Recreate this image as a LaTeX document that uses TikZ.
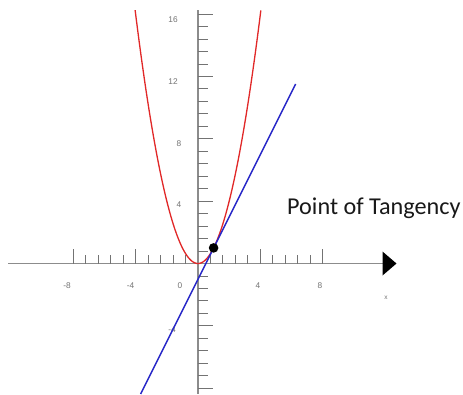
\documentclass[tikz,border=0pt]{standalone}
\usepackage{fontspec}
\setmainfont{Liberation Sans}
\newfontfamily\calib{Carlito}
\begin{document}
\begin{tikzpicture}[x=1pt,y=-1pt,
  axisline/.style={draw=black!45,line width=1.8pt},
  tickline/.style={draw=black!55,line width=0.9pt},
  ticklbl/.style={text=black!55,font=\fontsize{8.3}{9}\selectfont,inner sep=0pt},
  curveP/.style={draw={rgb,255:red,225;green,40;blue,40},line width=1.3pt},
  lineT/.style={draw={rgb,255:red,40;green,40;blue,200},line width=1.5pt},
  callout/.style={font=\calib\fontsize{24.2}{27}\selectfont,inner sep=0pt,anchor=base west,text=black!90}]
\useasboundingbox (0,0) rectangle (463,394);
\fill[white] (0,0) rectangle (463,394);
% axes
\coordinate (xs) at (8,263.5);
\coordinate (xe) at (384,263.5);
\coordinate (ys) at (197.7,10);
\coordinate (ye) at (197.7,394);
\draw[axisline] (xs) -- (xe);
\draw[axisline] (ys) -- (ye);
\fill[black] (382.5,251.5) -- (396.5,263.5) -- (382.5,275.5) -- cycle;
% x ticks
\foreach \k in {-10,...,10}{
  \ifnum\k=0\else
    \pgfmathsetmacro{\xx}{198+12.47*\k}
    \pgfmathtruncatemacro{\mk}{mod(abs(\k),5)}
    \ifnum\mk=0
      \draw[tickline] (\xx,263.5) -- (\xx,249);
    \else
      \draw[tickline] (\xx,263.5) -- (\xx,255);
    \fi
  \fi
}
% y ticks
\foreach \k in {-10,...,20}{
  \ifnum\k=0\else
    \pgfmathsetmacro{\yy}{263.5-12.47*\k}
    \pgfmathtruncatemacro{\mk}{mod(abs(\k),5)}
    \ifnum\mk=0
      \draw[tickline] (197.7,\yy) -- (213,\yy);
    \else
      \draw[tickline] (197.7,\yy) -- (207.5,\yy);
    \fi
  \fi
}
% labels
\node[ticklbl] (lxm8) at (67,286) {-8};
\node[ticklbl] (lxm4) at (130.5,286) {-4};
\node[ticklbl] (lx0) at (180,286) {0};
\node[ticklbl] (lx4) at (258,286) {4};
\node[ticklbl] (lx8) at (320,286) {8};
\node[ticklbl,font=\fontsize{6.5}{7}\selectfont] (lxx) at (386,298) {x};
\node[ticklbl] (ly16) at (173,20) {16};
\node[ticklbl] (ly12) at (173,82) {12};
\node[ticklbl] (ly8) at (179,144) {8};
\node[ticklbl] (ly4) at (179,205) {4};
\node[ticklbl] (lym4) at (172,330) {-4};
% parabola
\draw[curveP] plot[domain=-4.03:4.03,samples=120,smooth] ({198+15.6*\x},{263.5-15.6*\x*\x});
% tangent line
\coordinate (tb) at (140.6,394);
\coordinate (tt) at (295.6,84);
\draw[lineT] (tb) -- (tt);
% point
\fill[black] (213.6,247.9) circle (4.8);
\node[callout] (pt) at (287,214) {Point of Tangency};
\end{tikzpicture}
\end{document}
